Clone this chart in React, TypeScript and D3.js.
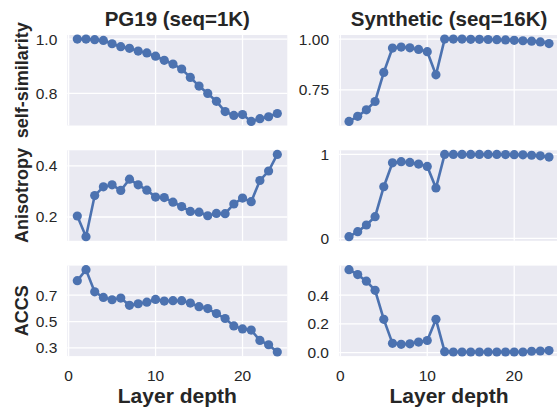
import React from "react";
import * as d3 from "d3";

const layers = d3.range(1, 25);

const pgSelfSim = [1.0, 1.0, 0.998, 0.995, 0.983, 0.972, 0.966, 0.956, 0.949, 0.937, 0.922, 0.908,
  0.89, 0.859, 0.827, 0.8, 0.771, 0.733, 0.719, 0.722, 0.697, 0.707, 0.714, 0.726];
const synSelfSim = [0.595, 0.62, 0.652, 0.693, 0.836, 0.956, 0.961, 0.957, 0.949, 0.938, 0.824, 1.0,
  1.0, 1.0, 0.999, 0.999, 0.998, 0.997, 0.996, 0.994, 0.992, 0.99, 0.986, 0.978];
const pgAniso = [0.204, 0.123, 0.284, 0.318, 0.326, 0.304, 0.348, 0.326, 0.305, 0.278, 0.276, 0.258,
  0.241, 0.222, 0.219, 0.205, 0.214, 0.213, 0.251, 0.274, 0.26, 0.343, 0.38, 0.445];
const synAniso = [0.02, 0.08, 0.159, 0.258, 0.615, 0.9, 0.913, 0.905, 0.885, 0.857, 0.6, 1.0,
  1.0, 1.0, 1.0, 1.0, 1.0, 1.0, 0.998, 0.997, 0.995, 0.99, 0.983, 0.968];
const pgAccs = [0.81, 0.893, 0.725, 0.683, 0.665, 0.678, 0.623, 0.635, 0.647, 0.668, 0.655, 0.658,
  0.658, 0.64, 0.613, 0.598, 0.56, 0.523, 0.467, 0.444, 0.435, 0.357, 0.324, 0.269];
const synAccs = [0.577, 0.543, 0.497, 0.434, 0.232, 0.065, 0.058, 0.062, 0.074, 0.085, 0.232, 0.007,
  0.005, 0.005, 0.005, 0.005, 0.005, 0.005, 0.005, 0.005, 0.005, 0.01, 0.012, 0.015];

const colTitles = ["PG19 (seq=1K)", "Synthetic (seq=16K)"];
const rowLabels = ["self-similarity", "Anisotropy", "ACCS"];
const xTicks = [0, 10, 20];

const panels = [
  [{ values: pgSelfSim, ticks: [0.8, 1.0], fmt: ".1f" }, { values: synSelfSim, ticks: [0.75, 1.0], fmt: ".2f" }],
  [{ values: pgAniso, ticks: [0.2, 0.4], fmt: ".1f" }, { values: synAniso, ticks: [0, 1], fmt: "d" }],
  [{ values: pgAccs, ticks: [0.3, 0.5, 0.7], fmt: ".1f" }, { values: synAccs, ticks: [0.0, 0.2, 0.4], fmt: ".1f" }],
];

const colLeft = [67.3, 339];
const panelW = 220;
const rowTop = [35, 150.3, 265.6];
const panelH = 90.5;

const blue = "#4C72B0";
const ink = "#262626";
const font = "'Liberation Sans', Arial, sans-serif";

function pad(ext: [number, number]): [number, number] {
  const m = (ext[1] - ext[0]) * 0.05;
  return [ext[0] - m, ext[1] + m];
}

const Panel = ({ cfg, x0, y0, showX }: any) => {
  const x = d3.scaleLinear().domain(pad([1, 24])).range([x0, x0 + panelW]);
  const y = d3.scaleLinear().domain(pad(d3.extent(cfg.values) as [number, number])).range([y0 + panelH, y0]);
  const line = d3.line<number>().x((_, i) => x(layers[i])).y((d) => y(d));
  const f = d3.format(cfg.fmt);
  return (
    <g>
      <rect x={x0} y={y0} width={panelW} height={panelH} fill="#EAEAF2" />
      {xTicks.map((t) => (
        <line key={"gx" + t} x1={x(t)} x2={x(t)} y1={y0} y2={y0 + panelH} stroke="#fff" strokeWidth={1.3} />
      ))}
      {cfg.ticks.map((t: number) => (
        <line key={"gy" + t} x1={x0} x2={x0 + panelW} y1={y(t)} y2={y(t)} stroke="#fff" strokeWidth={1.3} />
      ))}
      {cfg.ticks.map((t: number) => (
        <text key={"ty" + t} x={x0 - 10} y={y(t)} dy="0.35em" textAnchor="end" fontSize={15.5} fill={ink} fontFamily={font}>
          {f(t)}
        </text>
      ))}
      {showX &&
        xTicks.map((t) => (
          <text key={"tx" + t} x={x(t)} y={381} textAnchor="middle" fontSize={15.5} fill={ink} fontFamily={font}>
            {t}
          </text>
        ))}
      <path d={line(cfg.values) || ""} fill="none" stroke={blue} strokeWidth={2.6} />
      {cfg.values.map((v: number, i: number) => (
        <circle key={i} cx={x(layers[i])} cy={y(v)} r={4.6} fill={blue} />
      ))}
    </g>
  );
};

export default function App() {
  return (
    <svg width={557} height={409} style={{ display: "block", position: "absolute", left: 0, top: 0 }}>
      <rect width={557} height={409} fill="#fff" />
      {panels.map((row, r) =>
        row.map((cfg, c) => (
          <Panel key={r + "-" + c} cfg={cfg} x0={colLeft[c]} y0={rowTop[r]} showX={r === 2} />
        ))
      )}
      {colTitles.map((t, c) => (
        <text key={t} x={colLeft[c] + panelW / 2} y={26} textAnchor="middle" fontSize={20.5} fontWeight="bold" fill={ink} fontFamily={font}>
          {t}
        </text>
      ))}
      {colTitles.map((t, c) => (
        <text key={"xl" + c} x={colLeft[c] + panelW / 2} y={403} textAnchor="middle" fontSize={21} fontWeight="bold" fill={ink} fontFamily={font}>
          Layer depth
        </text>
      ))}
      {rowLabels.map((t, r) => (
        <text key={t} transform={`translate(28,${rowTop[r] + panelH / 2}) rotate(-90)`} textAnchor="middle" fontSize={18} fontWeight="bold" fill={ink} fontFamily={font}>
          {t}
        </text>
      ))}
    </svg>
  );
}
